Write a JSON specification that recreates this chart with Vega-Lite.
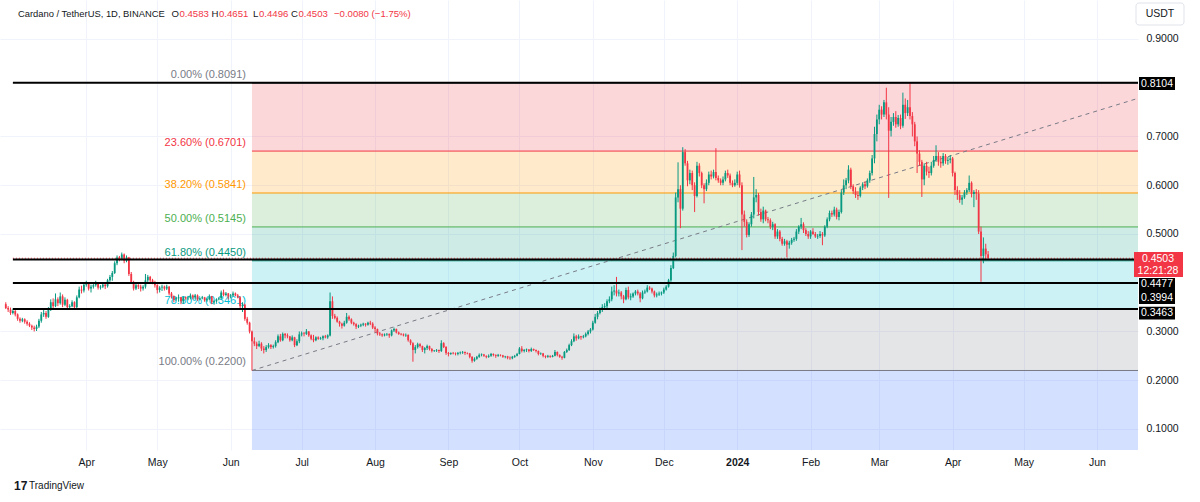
{
"$schema": "https://vega.github.io/schema/vega-lite/v6.json",
"width": 1138, "height": 450,
"autosize": {"type": "none"},
"padding": {"left": 0, "top": 0, "right": 62, "bottom": 52},
"background": "white",
"config": {"view": {"stroke": null}, "font": "Liberation Sans"},
"resolve": {"axis": {"x": "independent", "y": "independent"}},
"datasets": {
"fibz": [
{"lv":"0.236","from":"2023-06-10","top":0.8091,"bot":0.6701},
{"lv":"0.382","from":"2023-06-10","top":0.6701,"bot":0.5841},
{"lv":"0.5","from":"2023-06-10","top":0.5841,"bot":0.5145},
{"lv":"0.618","from":"2023-06-10","top":0.5145,"bot":0.4450},
{"lv":"0.786","from":"2023-06-10","top":0.4450,"bot":0.3461},
{"lv":"1","from":"2023-06-10","top":0.3461,"bot":0.2200},
{"lv":"1.618","from":"2023-06-10","top":0.2200,"bot":-0.1441}
],
"fibl": [
{"lv":"0","from":"2023-06-10","p":0.8091,"t":"0.00% (0.8091)"},
{"lv":"0.236","from":"2023-06-10","p":0.6701,"t":"23.60% (0.6701)"},
{"lv":"0.382","from":"2023-06-10","p":0.5841,"t":"38.20% (0.5841)"},
{"lv":"0.5","from":"2023-06-10","p":0.5145,"t":"50.00% (0.5145)"},
{"lv":"0.618","from":"2023-06-10","p":0.4450,"t":"61.80% (0.4450)"},
{"lv":"0.786","from":"2023-06-10","p":0.3461,"t":"78.60% (0.3461)"},
{"lv":"1","from":"2023-06-10","p":0.2200,"t":"100.00% (0.2200)"}
],
"trend": [{"d":"2023-06-10","p":0.2200},{"d":"2024-07-09","p":0.8091}],
"hl": [{"from":"2023-03-01","p":0.8104},{"from":"2023-03-01","p":0.4477},{"from":"2023-03-01","p":0.3994},{"from":"2023-03-01","p":0.3463}],
"pl": [{"k":"a","p":0.8104,"t":"0.8104"},{"k":"cur","from":"2023-03-01","p":0.4503,"t":"0.4503","t2":"12:21:28"},{"k":"b","p":0.4477,"t":"0.4477"},{"k":"c","p":0.3994,"t":"0.3994"},{"k":"d","p":0.3463,"t":"0.3463"}],
"one": [{}],
"candles": [
{"d":"2023-02-26","o":0.356,"h":0.360,"l":0.346,"c":0.348},
{"d":"2023-02-27","o":0.348,"h":0.352,"l":0.340,"c":0.345},
{"d":"2023-02-28","o":0.345,"h":0.349,"l":0.334,"c":0.338},
{"d":"2023-03-01","o":0.338,"h":0.347,"l":0.335,"c":0.342},
{"d":"2023-03-02","o":0.342,"h":0.344,"l":0.331,"c":0.335},
{"d":"2023-03-03","o":0.335,"h":0.337,"l":0.322,"c":0.326},
{"d":"2023-03-04","o":0.326,"h":0.329,"l":0.318,"c":0.322},
{"d":"2023-03-05","o":0.322,"h":0.328,"l":0.319,"c":0.325},
{"d":"2023-03-06","o":0.325,"h":0.327,"l":0.316,"c":0.320},
{"d":"2023-03-07","o":0.320,"h":0.323,"l":0.312,"c":0.316},
{"d":"2023-03-08","o":0.316,"h":0.319,"l":0.309,"c":0.312},
{"d":"2023-03-09","o":0.312,"h":0.314,"l":0.303,"c":0.308},
{"d":"2023-03-10","o":0.308,"h":0.312,"l":0.300,"c":0.305},
{"d":"2023-03-11","o":0.305,"h":0.314,"l":0.301,"c":0.310},
{"d":"2023-03-12","o":0.310,"h":0.326,"l":0.307,"c":0.322},
{"d":"2023-03-13","o":0.322,"h":0.340,"l":0.318,"c":0.335},
{"d":"2023-03-14","o":0.335,"h":0.348,"l":0.330,"c":0.338},
{"d":"2023-03-15","o":0.338,"h":0.342,"l":0.326,"c":0.330},
{"d":"2023-03-16","o":0.330,"h":0.350,"l":0.328,"c":0.345},
{"d":"2023-03-17","o":0.345,"h":0.366,"l":0.342,"c":0.360},
{"d":"2023-03-18","o":0.360,"h":0.368,"l":0.348,"c":0.352},
{"d":"2023-03-19","o":0.352,"h":0.378,"l":0.350,"c":0.366},
{"d":"2023-03-20","o":0.366,"h":0.370,"l":0.352,"c":0.358},
{"d":"2023-03-21","o":0.358,"h":0.380,"l":0.355,"c":0.372},
{"d":"2023-03-22","o":0.372,"h":0.376,"l":0.350,"c":0.355},
{"d":"2023-03-23","o":0.355,"h":0.370,"l":0.352,"c":0.365},
{"d":"2023-03-24","o":0.365,"h":0.367,"l":0.346,"c":0.350},
{"d":"2023-03-25","o":0.350,"h":0.356,"l":0.346,"c":0.352},
{"d":"2023-03-26","o":0.352,"h":0.364,"l":0.350,"c":0.360},
{"d":"2023-03-27","o":0.360,"h":0.362,"l":0.345,"c":0.350},
{"d":"2023-03-28","o":0.350,"h":0.374,"l":0.348,"c":0.370},
{"d":"2023-03-29","o":0.370,"h":0.392,"l":0.368,"c":0.386},
{"d":"2023-03-30","o":0.386,"h":0.394,"l":0.378,"c":0.384},
{"d":"2023-03-31","o":0.384,"h":0.400,"l":0.380,"c":0.396},
{"d":"2023-04-01","o":0.396,"h":0.404,"l":0.392,"c":0.398},
{"d":"2023-04-02","o":0.398,"h":0.400,"l":0.384,"c":0.388},
{"d":"2023-04-03","o":0.388,"h":0.396,"l":0.380,"c":0.392},
{"d":"2023-04-04","o":0.392,"h":0.400,"l":0.388,"c":0.395},
{"d":"2023-04-05","o":0.395,"h":0.404,"l":0.392,"c":0.398},
{"d":"2023-04-06","o":0.398,"h":0.399,"l":0.386,"c":0.390},
{"d":"2023-04-07","o":0.390,"h":0.395,"l":0.386,"c":0.392},
{"d":"2023-04-08","o":0.392,"h":0.399,"l":0.389,"c":0.396},
{"d":"2023-04-09","o":0.396,"h":0.398,"l":0.387,"c":0.393},
{"d":"2023-04-10","o":0.393,"h":0.408,"l":0.390,"c":0.405},
{"d":"2023-04-11","o":0.405,"h":0.416,"l":0.402,"c":0.412},
{"d":"2023-04-12","o":0.412,"h":0.424,"l":0.404,"c":0.420},
{"d":"2023-04-13","o":0.420,"h":0.444,"l":0.418,"c":0.440},
{"d":"2023-04-14","o":0.440,"h":0.456,"l":0.436,"c":0.452},
{"d":"2023-04-15","o":0.452,"h":0.455,"l":0.444,"c":0.448},
{"d":"2023-04-16","o":0.448,"h":0.462,"l":0.446,"c":0.458},
{"d":"2023-04-17","o":0.458,"h":0.460,"l":0.440,"c":0.445},
{"d":"2023-04-18","o":0.445,"h":0.456,"l":0.442,"c":0.452},
{"d":"2023-04-19","o":0.452,"h":0.453,"l":0.414,"c":0.418},
{"d":"2023-04-20","o":0.418,"h":0.422,"l":0.398,"c":0.400},
{"d":"2023-04-21","o":0.400,"h":0.404,"l":0.384,"c":0.388},
{"d":"2023-04-22","o":0.388,"h":0.398,"l":0.385,"c":0.395},
{"d":"2023-04-23","o":0.395,"h":0.397,"l":0.387,"c":0.392},
{"d":"2023-04-24","o":0.392,"h":0.396,"l":0.382,"c":0.388},
{"d":"2023-04-25","o":0.388,"h":0.395,"l":0.384,"c":0.392},
{"d":"2023-04-26","o":0.392,"h":0.418,"l":0.388,"c":0.405},
{"d":"2023-04-27","o":0.405,"h":0.416,"l":0.400,"c":0.412},
{"d":"2023-04-28","o":0.412,"h":0.414,"l":0.401,"c":0.405},
{"d":"2023-04-29","o":0.405,"h":0.408,"l":0.397,"c":0.400},
{"d":"2023-04-30","o":0.400,"h":0.404,"l":0.390,"c":0.395},
{"d":"2023-05-01","o":0.395,"h":0.397,"l":0.378,"c":0.385},
{"d":"2023-05-02","o":0.385,"h":0.393,"l":0.380,"c":0.390},
{"d":"2023-05-03","o":0.390,"h":0.396,"l":0.383,"c":0.392},
{"d":"2023-05-04","o":0.392,"h":0.394,"l":0.384,"c":0.388},
{"d":"2023-05-05","o":0.388,"h":0.396,"l":0.385,"c":0.392},
{"d":"2023-05-06","o":0.392,"h":0.393,"l":0.374,"c":0.378},
{"d":"2023-05-07","o":0.378,"h":0.381,"l":0.368,"c":0.372},
{"d":"2023-05-08","o":0.372,"h":0.374,"l":0.360,"c":0.366},
{"d":"2023-05-09","o":0.366,"h":0.371,"l":0.363,"c":0.368},
{"d":"2023-05-10","o":0.368,"h":0.376,"l":0.361,"c":0.370},
{"d":"2023-05-11","o":0.370,"h":0.371,"l":0.356,"c":0.362},
{"d":"2023-05-12","o":0.362,"h":0.372,"l":0.357,"c":0.370},
{"d":"2023-05-13","o":0.370,"h":0.372,"l":0.365,"c":0.368},
{"d":"2023-05-14","o":0.368,"h":0.373,"l":0.364,"c":0.369},
{"d":"2023-05-15","o":0.369,"h":0.378,"l":0.366,"c":0.374},
{"d":"2023-05-16","o":0.374,"h":0.376,"l":0.366,"c":0.370},
{"d":"2023-05-17","o":0.370,"h":0.377,"l":0.366,"c":0.374},
{"d":"2023-05-18","o":0.374,"h":0.376,"l":0.363,"c":0.366},
{"d":"2023-05-19","o":0.366,"h":0.370,"l":0.364,"c":0.368},
{"d":"2023-05-20","o":0.368,"h":0.373,"l":0.366,"c":0.370},
{"d":"2023-05-21","o":0.370,"h":0.371,"l":0.361,"c":0.364},
{"d":"2023-05-22","o":0.364,"h":0.369,"l":0.361,"c":0.366},
{"d":"2023-05-23","o":0.366,"h":0.376,"l":0.365,"c":0.372},
{"d":"2023-05-24","o":0.372,"h":0.373,"l":0.356,"c":0.360},
{"d":"2023-05-25","o":0.360,"h":0.364,"l":0.355,"c":0.362},
{"d":"2023-05-26","o":0.362,"h":0.368,"l":0.359,"c":0.366},
{"d":"2023-05-27","o":0.366,"h":0.370,"l":0.364,"c":0.368},
{"d":"2023-05-28","o":0.368,"h":0.384,"l":0.367,"c":0.380},
{"d":"2023-05-29","o":0.380,"h":0.386,"l":0.372,"c":0.375},
{"d":"2023-05-30","o":0.375,"h":0.381,"l":0.372,"c":0.378},
{"d":"2023-05-31","o":0.378,"h":0.379,"l":0.366,"c":0.372},
{"d":"2023-06-01","o":0.372,"h":0.377,"l":0.368,"c":0.374},
{"d":"2023-06-02","o":0.374,"h":0.382,"l":0.372,"c":0.378},
{"d":"2023-06-03","o":0.378,"h":0.380,"l":0.372,"c":0.374},
{"d":"2023-06-04","o":0.374,"h":0.377,"l":0.368,"c":0.370},
{"d":"2023-06-05","o":0.370,"h":0.372,"l":0.346,"c":0.352},
{"d":"2023-06-06","o":0.352,"h":0.360,"l":0.340,"c":0.355},
{"d":"2023-06-07","o":0.355,"h":0.357,"l":0.322,"c":0.326},
{"d":"2023-06-08","o":0.326,"h":0.330,"l":0.314,"c":0.318},
{"d":"2023-06-09","o":0.318,"h":0.320,"l":0.296,"c":0.300},
{"d":"2023-06-10","o":0.300,"h":0.302,"l":0.220,"c":0.280},
{"d":"2023-06-11","o":0.280,"h":0.288,"l":0.270,"c":0.275},
{"d":"2023-06-12","o":0.275,"h":0.279,"l":0.264,"c":0.270},
{"d":"2023-06-13","o":0.270,"h":0.281,"l":0.268,"c":0.275},
{"d":"2023-06-14","o":0.275,"h":0.278,"l":0.260,"c":0.265},
{"d":"2023-06-15","o":0.265,"h":0.270,"l":0.255,"c":0.262},
{"d":"2023-06-16","o":0.262,"h":0.272,"l":0.258,"c":0.268},
{"d":"2023-06-17","o":0.268,"h":0.276,"l":0.265,"c":0.272},
{"d":"2023-06-18","o":0.272,"h":0.274,"l":0.264,"c":0.268},
{"d":"2023-06-19","o":0.268,"h":0.273,"l":0.265,"c":0.270},
{"d":"2023-06-20","o":0.270,"h":0.282,"l":0.267,"c":0.278},
{"d":"2023-06-21","o":0.278,"h":0.294,"l":0.276,"c":0.290},
{"d":"2023-06-22","o":0.290,"h":0.295,"l":0.279,"c":0.282},
{"d":"2023-06-23","o":0.282,"h":0.298,"l":0.280,"c":0.295},
{"d":"2023-06-24","o":0.295,"h":0.297,"l":0.286,"c":0.292},
{"d":"2023-06-25","o":0.292,"h":0.296,"l":0.286,"c":0.290},
{"d":"2023-06-26","o":0.290,"h":0.291,"l":0.279,"c":0.282},
{"d":"2023-06-27","o":0.282,"h":0.292,"l":0.280,"c":0.288},
{"d":"2023-06-28","o":0.288,"h":0.289,"l":0.268,"c":0.272},
{"d":"2023-06-29","o":0.272,"h":0.284,"l":0.270,"c":0.280},
{"d":"2023-06-30","o":0.280,"h":0.300,"l":0.276,"c":0.294},
{"d":"2023-07-01","o":0.294,"h":0.300,"l":0.290,"c":0.296},
{"d":"2023-07-02","o":0.296,"h":0.299,"l":0.290,"c":0.295},
{"d":"2023-07-03","o":0.295,"h":0.305,"l":0.293,"c":0.300},
{"d":"2023-07-04","o":0.300,"h":0.301,"l":0.289,"c":0.292},
{"d":"2023-07-05","o":0.292,"h":0.294,"l":0.282,"c":0.285},
{"d":"2023-07-06","o":0.285,"h":0.293,"l":0.278,"c":0.282},
{"d":"2023-07-07","o":0.282,"h":0.290,"l":0.280,"c":0.288},
{"d":"2023-07-08","o":0.288,"h":0.290,"l":0.283,"c":0.285},
{"d":"2023-07-09","o":0.285,"h":0.289,"l":0.283,"c":0.286},
{"d":"2023-07-10","o":0.286,"h":0.292,"l":0.282,"c":0.290},
{"d":"2023-07-11","o":0.290,"h":0.293,"l":0.286,"c":0.288},
{"d":"2023-07-12","o":0.288,"h":0.294,"l":0.285,"c":0.292},
{"d":"2023-07-13","o":0.292,"h":0.380,"l":0.290,"c":0.362},
{"d":"2023-07-14","o":0.362,"h":0.372,"l":0.326,"c":0.332},
{"d":"2023-07-15","o":0.332,"h":0.336,"l":0.325,"c":0.328},
{"d":"2023-07-16","o":0.328,"h":0.331,"l":0.318,"c":0.320},
{"d":"2023-07-17","o":0.320,"h":0.322,"l":0.310,"c":0.316},
{"d":"2023-07-18","o":0.316,"h":0.318,"l":0.306,"c":0.312},
{"d":"2023-07-19","o":0.312,"h":0.322,"l":0.310,"c":0.318},
{"d":"2023-07-20","o":0.318,"h":0.338,"l":0.316,"c":0.330},
{"d":"2023-07-21","o":0.330,"h":0.333,"l":0.322,"c":0.325},
{"d":"2023-07-22","o":0.325,"h":0.327,"l":0.315,"c":0.318},
{"d":"2023-07-23","o":0.318,"h":0.320,"l":0.312,"c":0.315},
{"d":"2023-07-24","o":0.315,"h":0.317,"l":0.305,"c":0.310},
{"d":"2023-07-25","o":0.310,"h":0.314,"l":0.307,"c":0.312},
{"d":"2023-07-26","o":0.312,"h":0.316,"l":0.309,"c":0.314},
{"d":"2023-07-27","o":0.314,"h":0.318,"l":0.311,"c":0.316},
{"d":"2023-07-28","o":0.316,"h":0.317,"l":0.310,"c":0.314},
{"d":"2023-07-29","o":0.314,"h":0.320,"l":0.312,"c":0.318},
{"d":"2023-07-30","o":0.318,"h":0.322,"l":0.313,"c":0.316},
{"d":"2023-07-31","o":0.316,"h":0.319,"l":0.305,"c":0.308},
{"d":"2023-08-01","o":0.308,"h":0.311,"l":0.298,"c":0.305},
{"d":"2023-08-02","o":0.305,"h":0.306,"l":0.292,"c":0.296},
{"d":"2023-08-03","o":0.296,"h":0.299,"l":0.291,"c":0.294},
{"d":"2023-08-04","o":0.294,"h":0.296,"l":0.289,"c":0.292},
{"d":"2023-08-05","o":0.292,"h":0.296,"l":0.290,"c":0.294},
{"d":"2023-08-06","o":0.294,"h":0.297,"l":0.291,"c":0.295},
{"d":"2023-08-07","o":0.295,"h":0.296,"l":0.287,"c":0.292},
{"d":"2023-08-08","o":0.292,"h":0.304,"l":0.290,"c":0.302},
{"d":"2023-08-09","o":0.302,"h":0.308,"l":0.299,"c":0.305},
{"d":"2023-08-10","o":0.305,"h":0.306,"l":0.296,"c":0.298},
{"d":"2023-08-11","o":0.298,"h":0.300,"l":0.293,"c":0.295},
{"d":"2023-08-12","o":0.295,"h":0.297,"l":0.292,"c":0.294},
{"d":"2023-08-13","o":0.294,"h":0.296,"l":0.290,"c":0.292},
{"d":"2023-08-14","o":0.292,"h":0.296,"l":0.289,"c":0.293},
{"d":"2023-08-15","o":0.293,"h":0.294,"l":0.279,"c":0.282},
{"d":"2023-08-16","o":0.282,"h":0.284,"l":0.272,"c":0.276},
{"d":"2023-08-17","o":0.276,"h":0.278,"l":0.238,"c":0.262},
{"d":"2023-08-18","o":0.262,"h":0.272,"l":0.255,"c":0.268},
{"d":"2023-08-19","o":0.268,"h":0.277,"l":0.265,"c":0.274},
{"d":"2023-08-20","o":0.274,"h":0.276,"l":0.267,"c":0.270},
{"d":"2023-08-21","o":0.270,"h":0.271,"l":0.258,"c":0.262},
{"d":"2023-08-22","o":0.262,"h":0.268,"l":0.255,"c":0.266},
{"d":"2023-08-23","o":0.266,"h":0.273,"l":0.262,"c":0.270},
{"d":"2023-08-24","o":0.270,"h":0.271,"l":0.261,"c":0.264},
{"d":"2023-08-25","o":0.264,"h":0.266,"l":0.257,"c":0.260},
{"d":"2023-08-26","o":0.260,"h":0.262,"l":0.258,"c":0.261},
{"d":"2023-08-27","o":0.261,"h":0.264,"l":0.258,"c":0.262},
{"d":"2023-08-28","o":0.262,"h":0.263,"l":0.256,"c":0.260},
{"d":"2023-08-29","o":0.260,"h":0.282,"l":0.258,"c":0.276},
{"d":"2023-08-30","o":0.276,"h":0.278,"l":0.266,"c":0.268},
{"d":"2023-08-31","o":0.268,"h":0.270,"l":0.252,"c":0.256},
{"d":"2023-09-01","o":0.256,"h":0.258,"l":0.249,"c":0.254},
{"d":"2023-09-02","o":0.254,"h":0.257,"l":0.252,"c":0.256},
{"d":"2023-09-03","o":0.256,"h":0.258,"l":0.253,"c":0.255},
{"d":"2023-09-04","o":0.255,"h":0.257,"l":0.251,"c":0.254},
{"d":"2023-09-05","o":0.254,"h":0.258,"l":0.251,"c":0.256},
{"d":"2023-09-06","o":0.256,"h":0.259,"l":0.253,"c":0.257},
{"d":"2023-09-07","o":0.257,"h":0.260,"l":0.254,"c":0.258},
{"d":"2023-09-08","o":0.258,"h":0.259,"l":0.252,"c":0.256},
{"d":"2023-09-09","o":0.256,"h":0.257,"l":0.253,"c":0.255},
{"d":"2023-09-10","o":0.255,"h":0.256,"l":0.245,"c":0.248},
{"d":"2023-09-11","o":0.248,"h":0.249,"l":0.236,"c":0.240},
{"d":"2023-09-12","o":0.240,"h":0.247,"l":0.238,"c":0.244},
{"d":"2023-09-13","o":0.244,"h":0.250,"l":0.242,"c":0.248},
{"d":"2023-09-14","o":0.248,"h":0.255,"l":0.246,"c":0.252},
{"d":"2023-09-15","o":0.252,"h":0.255,"l":0.249,"c":0.253},
{"d":"2023-09-16","o":0.253,"h":0.254,"l":0.248,"c":0.250},
{"d":"2023-09-17","o":0.250,"h":0.251,"l":0.245,"c":0.248},
{"d":"2023-09-18","o":0.248,"h":0.253,"l":0.246,"c":0.250},
{"d":"2023-09-19","o":0.250,"h":0.256,"l":0.248,"c":0.254},
{"d":"2023-09-20","o":0.254,"h":0.255,"l":0.249,"c":0.252},
{"d":"2023-09-21","o":0.252,"h":0.253,"l":0.246,"c":0.250},
{"d":"2023-09-22","o":0.250,"h":0.254,"l":0.248,"c":0.252},
{"d":"2023-09-23","o":0.252,"h":0.253,"l":0.249,"c":0.251},
{"d":"2023-09-24","o":0.251,"h":0.252,"l":0.246,"c":0.248},
{"d":"2023-09-25","o":0.248,"h":0.250,"l":0.245,"c":0.249},
{"d":"2023-09-26","o":0.249,"h":0.250,"l":0.243,"c":0.246},
{"d":"2023-09-27","o":0.246,"h":0.249,"l":0.242,"c":0.245},
{"d":"2023-09-28","o":0.245,"h":0.250,"l":0.243,"c":0.248},
{"d":"2023-09-29","o":0.248,"h":0.252,"l":0.246,"c":0.250},
{"d":"2023-09-30","o":0.250,"h":0.256,"l":0.249,"c":0.254},
{"d":"2023-10-01","o":0.254,"h":0.268,"l":0.253,"c":0.265},
{"d":"2023-10-02","o":0.265,"h":0.270,"l":0.257,"c":0.260},
{"d":"2023-10-03","o":0.260,"h":0.264,"l":0.257,"c":0.262},
{"d":"2023-10-04","o":0.262,"h":0.265,"l":0.258,"c":0.263},
{"d":"2023-10-05","o":0.263,"h":0.264,"l":0.257,"c":0.260},
{"d":"2023-10-06","o":0.260,"h":0.267,"l":0.258,"c":0.264},
{"d":"2023-10-07","o":0.264,"h":0.265,"l":0.260,"c":0.262},
{"d":"2023-10-08","o":0.262,"h":0.263,"l":0.257,"c":0.260},
{"d":"2023-10-09","o":0.260,"h":0.261,"l":0.251,"c":0.254},
{"d":"2023-10-10","o":0.254,"h":0.257,"l":0.252,"c":0.255},
{"d":"2023-10-11","o":0.255,"h":0.256,"l":0.247,"c":0.250},
{"d":"2023-10-12","o":0.250,"h":0.251,"l":0.245,"c":0.248},
{"d":"2023-10-13","o":0.248,"h":0.252,"l":0.246,"c":0.250},
{"d":"2023-10-14","o":0.250,"h":0.251,"l":0.246,"c":0.248},
{"d":"2023-10-15","o":0.248,"h":0.252,"l":0.247,"c":0.250},
{"d":"2023-10-16","o":0.250,"h":0.262,"l":0.249,"c":0.258},
{"d":"2023-10-17","o":0.258,"h":0.259,"l":0.249,"c":0.252},
{"d":"2023-10-18","o":0.252,"h":0.253,"l":0.246,"c":0.248},
{"d":"2023-10-19","o":0.248,"h":0.250,"l":0.242,"c":0.246},
{"d":"2023-10-20","o":0.246,"h":0.260,"l":0.245,"c":0.258},
{"d":"2023-10-21","o":0.258,"h":0.265,"l":0.256,"c":0.262},
{"d":"2023-10-22","o":0.262,"h":0.275,"l":0.260,"c":0.272},
{"d":"2023-10-23","o":0.272,"h":0.284,"l":0.270,"c":0.280},
{"d":"2023-10-24","o":0.280,"h":0.296,"l":0.278,"c":0.290},
{"d":"2023-10-25","o":0.290,"h":0.293,"l":0.281,"c":0.286},
{"d":"2023-10-26","o":0.286,"h":0.294,"l":0.284,"c":0.290},
{"d":"2023-10-27","o":0.290,"h":0.291,"l":0.283,"c":0.288},
{"d":"2023-10-28","o":0.288,"h":0.293,"l":0.286,"c":0.290},
{"d":"2023-10-29","o":0.290,"h":0.298,"l":0.288,"c":0.295},
{"d":"2023-10-30","o":0.295,"h":0.303,"l":0.292,"c":0.300},
{"d":"2023-10-31","o":0.300,"h":0.307,"l":0.296,"c":0.304},
{"d":"2023-11-01","o":0.304,"h":0.322,"l":0.302,"c":0.318},
{"d":"2023-11-02","o":0.318,"h":0.336,"l":0.316,"c":0.330},
{"d":"2023-11-03","o":0.330,"h":0.342,"l":0.325,"c":0.338},
{"d":"2023-11-04","o":0.338,"h":0.349,"l":0.335,"c":0.345},
{"d":"2023-11-05","o":0.345,"h":0.356,"l":0.340,"c":0.350},
{"d":"2023-11-06","o":0.350,"h":0.358,"l":0.345,"c":0.352},
{"d":"2023-11-07","o":0.352,"h":0.366,"l":0.348,"c":0.362},
{"d":"2023-11-08","o":0.362,"h":0.372,"l":0.358,"c":0.366},
{"d":"2023-11-09","o":0.366,"h":0.392,"l":0.362,"c":0.382},
{"d":"2023-11-10","o":0.382,"h":0.395,"l":0.374,"c":0.384},
{"d":"2023-11-11","o":0.384,"h":0.412,"l":0.372,"c":0.378},
{"d":"2023-11-12","o":0.378,"h":0.386,"l":0.372,"c":0.380},
{"d":"2023-11-13","o":0.380,"h":0.383,"l":0.366,"c":0.372},
{"d":"2023-11-14","o":0.372,"h":0.375,"l":0.358,"c":0.366},
{"d":"2023-11-15","o":0.366,"h":0.390,"l":0.364,"c":0.385},
{"d":"2023-11-16","o":0.385,"h":0.392,"l":0.366,"c":0.370},
{"d":"2023-11-17","o":0.370,"h":0.378,"l":0.364,"c":0.372},
{"d":"2023-11-18","o":0.372,"h":0.380,"l":0.369,"c":0.378},
{"d":"2023-11-19","o":0.378,"h":0.385,"l":0.374,"c":0.382},
{"d":"2023-11-20","o":0.382,"h":0.386,"l":0.374,"c":0.378},
{"d":"2023-11-21","o":0.378,"h":0.381,"l":0.360,"c":0.368},
{"d":"2023-11-22","o":0.368,"h":0.384,"l":0.366,"c":0.380},
{"d":"2023-11-23","o":0.380,"h":0.386,"l":0.377,"c":0.382},
{"d":"2023-11-24","o":0.382,"h":0.395,"l":0.380,"c":0.390},
{"d":"2023-11-25","o":0.390,"h":0.393,"l":0.385,"c":0.388},
{"d":"2023-11-26","o":0.388,"h":0.390,"l":0.378,"c":0.382},
{"d":"2023-11-27","o":0.382,"h":0.384,"l":0.370,"c":0.374},
{"d":"2023-11-28","o":0.374,"h":0.380,"l":0.370,"c":0.376},
{"d":"2023-11-29","o":0.376,"h":0.382,"l":0.373,"c":0.378},
{"d":"2023-11-30","o":0.378,"h":0.382,"l":0.374,"c":0.380},
{"d":"2023-12-01","o":0.380,"h":0.390,"l":0.377,"c":0.386},
{"d":"2023-12-02","o":0.386,"h":0.395,"l":0.384,"c":0.392},
{"d":"2023-12-03","o":0.392,"h":0.408,"l":0.390,"c":0.405},
{"d":"2023-12-04","o":0.405,"h":0.436,"l":0.402,"c":0.430},
{"d":"2023-12-05","o":0.430,"h":0.462,"l":0.428,"c":0.455},
{"d":"2023-12-06","o":0.455,"h":0.585,"l":0.452,"c":0.575},
{"d":"2023-12-07","o":0.575,"h":0.647,"l":0.565,"c":0.592},
{"d":"2023-12-08","o":0.592,"h":0.600,"l":0.512,"c":0.552},
{"d":"2023-12-09","o":0.552,"h":0.678,"l":0.548,"c":0.668},
{"d":"2023-12-10","o":0.668,"h":0.674,"l":0.640,"c":0.645},
{"d":"2023-12-11","o":0.645,"h":0.650,"l":0.598,"c":0.610},
{"d":"2023-12-12","o":0.610,"h":0.632,"l":0.602,"c":0.625},
{"d":"2023-12-13","o":0.625,"h":0.630,"l":0.590,"c":0.600},
{"d":"2023-12-14","o":0.600,"h":0.606,"l":0.545,"c":0.578},
{"d":"2023-12-15","o":0.578,"h":0.648,"l":0.575,"c":0.640},
{"d":"2023-12-16","o":0.640,"h":0.645,"l":0.618,"c":0.625},
{"d":"2023-12-17","o":0.625,"h":0.628,"l":0.594,"c":0.600},
{"d":"2023-12-18","o":0.600,"h":0.604,"l":0.563,"c":0.592},
{"d":"2023-12-19","o":0.592,"h":0.612,"l":0.588,"c":0.605},
{"d":"2023-12-20","o":0.605,"h":0.628,"l":0.600,"c":0.622},
{"d":"2023-12-21","o":0.622,"h":0.630,"l":0.612,"c":0.618},
{"d":"2023-12-22","o":0.618,"h":0.632,"l":0.614,"c":0.627},
{"d":"2023-12-23","o":0.627,"h":0.676,"l":0.610,"c":0.615},
{"d":"2023-12-24","o":0.615,"h":0.620,"l":0.605,"c":0.610},
{"d":"2023-12-25","o":0.610,"h":0.614,"l":0.600,"c":0.605},
{"d":"2023-12-26","o":0.605,"h":0.618,"l":0.600,"c":0.612},
{"d":"2023-12-27","o":0.612,"h":0.630,"l":0.608,"c":0.625},
{"d":"2023-12-28","o":0.625,"h":0.632,"l":0.615,"c":0.620},
{"d":"2023-12-29","o":0.620,"h":0.624,"l":0.600,"c":0.605},
{"d":"2023-12-30","o":0.605,"h":0.610,"l":0.596,"c":0.600},
{"d":"2023-12-31","o":0.600,"h":0.612,"l":0.597,"c":0.605},
{"d":"2024-01-01","o":0.605,"h":0.628,"l":0.600,"c":0.622},
{"d":"2024-01-02","o":0.622,"h":0.630,"l":0.595,"c":0.600},
{"d":"2024-01-03","o":0.600,"h":0.606,"l":0.467,"c":0.540},
{"d":"2024-01-04","o":0.540,"h":0.548,"l":0.515,"c":0.525},
{"d":"2024-01-05","o":0.525,"h":0.530,"l":0.493,"c":0.498},
{"d":"2024-01-06","o":0.498,"h":0.524,"l":0.494,"c":0.520},
{"d":"2024-01-07","o":0.520,"h":0.545,"l":0.515,"c":0.540},
{"d":"2024-01-08","o":0.540,"h":0.617,"l":0.532,"c":0.575},
{"d":"2024-01-09","o":0.575,"h":0.592,"l":0.565,"c":0.580},
{"d":"2024-01-10","o":0.580,"h":0.584,"l":0.538,"c":0.545},
{"d":"2024-01-11","o":0.545,"h":0.552,"l":0.525,"c":0.530},
{"d":"2024-01-12","o":0.530,"h":0.556,"l":0.522,"c":0.548},
{"d":"2024-01-13","o":0.548,"h":0.550,"l":0.526,"c":0.530},
{"d":"2024-01-14","o":0.530,"h":0.535,"l":0.522,"c":0.528},
{"d":"2024-01-15","o":0.528,"h":0.532,"l":0.510,"c":0.515},
{"d":"2024-01-16","o":0.515,"h":0.525,"l":0.508,"c":0.520},
{"d":"2024-01-17","o":0.520,"h":0.522,"l":0.490,"c":0.495},
{"d":"2024-01-18","o":0.495,"h":0.510,"l":0.490,"c":0.505},
{"d":"2024-01-19","o":0.505,"h":0.508,"l":0.485,"c":0.490},
{"d":"2024-01-20","o":0.490,"h":0.494,"l":0.476,"c":0.480},
{"d":"2024-01-21","o":0.480,"h":0.490,"l":0.476,"c":0.485},
{"d":"2024-01-22","o":0.485,"h":0.488,"l":0.452,"c":0.478},
{"d":"2024-01-23","o":0.478,"h":0.486,"l":0.470,"c":0.482},
{"d":"2024-01-24","o":0.482,"h":0.492,"l":0.478,"c":0.488},
{"d":"2024-01-25","o":0.488,"h":0.494,"l":0.484,"c":0.490},
{"d":"2024-01-26","o":0.490,"h":0.510,"l":0.486,"c":0.505},
{"d":"2024-01-27","o":0.505,"h":0.518,"l":0.500,"c":0.515},
{"d":"2024-01-28","o":0.515,"h":0.533,"l":0.510,"c":0.520},
{"d":"2024-01-29","o":0.520,"h":0.524,"l":0.502,"c":0.508},
{"d":"2024-01-30","o":0.508,"h":0.512,"l":0.496,"c":0.500},
{"d":"2024-01-31","o":0.500,"h":0.506,"l":0.490,"c":0.495},
{"d":"2024-02-01","o":0.495,"h":0.508,"l":0.490,"c":0.505},
{"d":"2024-02-02","o":0.505,"h":0.512,"l":0.498,"c":0.500},
{"d":"2024-02-03","o":0.500,"h":0.504,"l":0.492,"c":0.495},
{"d":"2024-02-04","o":0.495,"h":0.500,"l":0.490,"c":0.496},
{"d":"2024-02-05","o":0.496,"h":0.506,"l":0.492,"c":0.500},
{"d":"2024-02-06","o":0.500,"h":0.504,"l":0.477,"c":0.497},
{"d":"2024-02-07","o":0.497,"h":0.518,"l":0.494,"c":0.515},
{"d":"2024-02-08","o":0.515,"h":0.534,"l":0.512,"c":0.530},
{"d":"2024-02-09","o":0.530,"h":0.548,"l":0.526,"c":0.543},
{"d":"2024-02-10","o":0.543,"h":0.548,"l":0.535,"c":0.540},
{"d":"2024-02-11","o":0.540,"h":0.556,"l":0.536,"c":0.550},
{"d":"2024-02-12","o":0.550,"h":0.554,"l":0.530,"c":0.535},
{"d":"2024-02-13","o":0.535,"h":0.550,"l":0.528,"c":0.545},
{"d":"2024-02-14","o":0.545,"h":0.590,"l":0.542,"c":0.585},
{"d":"2024-02-15","o":0.585,"h":0.612,"l":0.580,"c":0.600},
{"d":"2024-02-16","o":0.600,"h":0.615,"l":0.592,"c":0.610},
{"d":"2024-02-17","o":0.610,"h":0.641,"l":0.604,"c":0.632},
{"d":"2024-02-18","o":0.632,"h":0.636,"l":0.592,"c":0.598},
{"d":"2024-02-19","o":0.598,"h":0.602,"l":0.582,"c":0.588},
{"d":"2024-02-20","o":0.588,"h":0.596,"l":0.574,"c":0.580},
{"d":"2024-02-21","o":0.580,"h":0.588,"l":0.570,"c":0.578},
{"d":"2024-02-22","o":0.578,"h":0.598,"l":0.575,"c":0.595},
{"d":"2024-02-23","o":0.595,"h":0.606,"l":0.590,"c":0.602},
{"d":"2024-02-24","o":0.602,"h":0.608,"l":0.592,"c":0.598},
{"d":"2024-02-25","o":0.598,"h":0.614,"l":0.595,"c":0.610},
{"d":"2024-02-26","o":0.610,"h":0.630,"l":0.605,"c":0.625},
{"d":"2024-02-27","o":0.625,"h":0.662,"l":0.620,"c":0.655},
{"d":"2024-02-28","o":0.655,"h":0.720,"l":0.645,"c":0.705},
{"d":"2024-02-29","o":0.705,"h":0.745,"l":0.690,"c":0.735},
{"d":"2024-03-01","o":0.735,"h":0.765,"l":0.725,"c":0.755},
{"d":"2024-03-02","o":0.755,"h":0.762,"l":0.735,"c":0.745},
{"d":"2024-03-03","o":0.745,"h":0.775,"l":0.740,"c":0.770},
{"d":"2024-03-04","o":0.770,"h":0.800,"l":0.735,"c":0.745},
{"d":"2024-03-05","o":0.745,"h":0.760,"l":0.574,"c":0.712},
{"d":"2024-03-06","o":0.712,"h":0.740,"l":0.700,"c":0.730},
{"d":"2024-03-07","o":0.730,"h":0.748,"l":0.722,"c":0.740},
{"d":"2024-03-08","o":0.740,"h":0.752,"l":0.718,"c":0.725},
{"d":"2024-03-09","o":0.725,"h":0.744,"l":0.720,"c":0.738},
{"d":"2024-03-10","o":0.738,"h":0.745,"l":0.715,"c":0.722},
{"d":"2024-03-11","o":0.722,"h":0.790,"l":0.718,"c":0.765},
{"d":"2024-03-12","o":0.765,"h":0.778,"l":0.736,"c":0.748},
{"d":"2024-03-13","o":0.748,"h":0.775,"l":0.742,"c":0.760},
{"d":"2024-03-14","o":0.760,"h":0.810,"l":0.735,"c":0.742},
{"d":"2024-03-15","o":0.742,"h":0.750,"l":0.700,"c":0.725},
{"d":"2024-03-16","o":0.725,"h":0.730,"l":0.680,"c":0.690},
{"d":"2024-03-17","o":0.690,"h":0.700,"l":0.625,"c":0.665},
{"d":"2024-03-18","o":0.665,"h":0.672,"l":0.640,"c":0.648},
{"d":"2024-03-19","o":0.648,"h":0.652,"l":0.576,"c":0.612},
{"d":"2024-03-20","o":0.612,"h":0.645,"l":0.600,"c":0.640},
{"d":"2024-03-21","o":0.640,"h":0.648,"l":0.620,"c":0.628},
{"d":"2024-03-22","o":0.628,"h":0.638,"l":0.615,"c":0.625},
{"d":"2024-03-23","o":0.625,"h":0.648,"l":0.620,"c":0.640},
{"d":"2024-03-24","o":0.640,"h":0.660,"l":0.636,"c":0.652},
{"d":"2024-03-25","o":0.652,"h":0.682,"l":0.648,"c":0.660},
{"d":"2024-03-26","o":0.660,"h":0.668,"l":0.640,"c":0.648},
{"d":"2024-03-27","o":0.648,"h":0.660,"l":0.636,"c":0.645},
{"d":"2024-03-28","o":0.645,"h":0.666,"l":0.640,"c":0.660},
{"d":"2024-03-29","o":0.660,"h":0.664,"l":0.644,"c":0.650},
{"d":"2024-03-30","o":0.650,"h":0.658,"l":0.642,"c":0.652},
{"d":"2024-03-31","o":0.652,"h":0.662,"l":0.645,"c":0.655},
{"d":"2024-04-01","o":0.655,"h":0.658,"l":0.618,"c":0.625},
{"d":"2024-04-02","o":0.625,"h":0.628,"l":0.580,"c":0.590},
{"d":"2024-04-03","o":0.590,"h":0.598,"l":0.570,"c":0.580},
{"d":"2024-04-04","o":0.580,"h":0.590,"l":0.564,"c":0.570},
{"d":"2024-04-05","o":0.570,"h":0.580,"l":0.560,"c":0.575},
{"d":"2024-04-06","o":0.575,"h":0.590,"l":0.572,"c":0.585},
{"d":"2024-04-07","o":0.585,"h":0.594,"l":0.580,"c":0.590},
{"d":"2024-04-08","o":0.590,"h":0.620,"l":0.586,"c":0.605},
{"d":"2024-04-09","o":0.605,"h":0.608,"l":0.575,"c":0.582},
{"d":"2024-04-10","o":0.582,"h":0.590,"l":0.555,"c":0.586},
{"d":"2024-04-11","o":0.586,"h":0.592,"l":0.570,"c":0.583},
{"d":"2024-04-12","o":0.583,"h":0.590,"l":0.500,"c":0.505},
{"d":"2024-04-13","o":0.505,"h":0.515,"l":0.402,"c":0.455},
{"d":"2024-04-14","o":0.455,"h":0.493,"l":0.440,"c":0.470},
{"d":"2024-04-15","o":0.470,"h":0.480,"l":0.447,"c":0.4583},
{"d":"2024-04-16","o":0.4583,"h":0.4651,"l":0.4496,"c":0.4503}
]
},
"layer": [
{"data":{"name":"fibz"},"mark":{"type":"rect","opacity":0.2,"clip":true},
 "encoding":{
  "x":{"field":"from","type":"temporal","scale":{"type":"utc","domain":[{"year":2023,"month":2,"date":25,"hours":16,"utc":true},{"year":2024,"month":6,"date":16,"hours":5,"utc":true}]},"axis":null},
  "x2":{"datum":{"year":2025,"month":1,"date":1,"utc":true}},
  "y":{"field":"top","type":"quantitative","scale":{"domain":[0.0569,0.98],"zero":false,"nice":false},"axis":null},
  "y2":{"field":"bot"},
  "color":{"field":"lv","type":"nominal","legend":null,"scale":{"domain":["0","0.236","0.382","0.5","0.618","0.786","1","1.618"],"range":["#787b86","#f23645","#ff9800","#4caf50","#089981","#00bcd4","#787b86","#2962ff"]}}}},
{"data":{"name":"fibl"},"mark":{"type":"rule","strokeWidth":1,"clip":true},
 "encoding":{
  "x":{"field":"from","type":"temporal","scale":{"type":"utc","domain":[{"year":2023,"month":2,"date":25,"hours":16,"utc":true},{"year":2024,"month":6,"date":16,"hours":5,"utc":true}]},"axis":null},
  "x2":{"datum":{"year":2025,"month":1,"date":1,"utc":true}},
  "y":{"field":"p","type":"quantitative","scale":{"domain":[0.0569,0.98],"zero":false,"nice":false},"axis":null},
  "color":{"field":"lv","type":"nominal","legend":null}}},
{"data":{"name":"fibl"},"mark":{"type":"text","align":"right","baseline":"alphabetic","dx":-6,"dy":-5,"fontSize":11},
 "encoding":{
  "x":{"field":"from","type":"temporal","scale":{"type":"utc","domain":[{"year":2023,"month":2,"date":25,"hours":16,"utc":true},{"year":2024,"month":6,"date":16,"hours":5,"utc":true}]},"axis":null},
  "y":{"field":"p","type":"quantitative","scale":{"domain":[0.0569,0.98],"zero":false,"nice":false},"axis":null},
  "text":{"field":"t"},
  "color":{"field":"lv","type":"nominal","legend":null}}},
{"data":{"name":"trend"},"mark":{"type":"line","strokeDash":[4,4],"color":"#787b86","strokeWidth":1,"clip":true},
 "encoding":{
  "x":{"field":"d","type":"temporal","scale":{"type":"utc","domain":[{"year":2023,"month":2,"date":25,"hours":16,"utc":true},{"year":2024,"month":6,"date":16,"hours":5,"utc":true}]},"axis":null},
  "y":{"field":"p","type":"quantitative","scale":{"domain":[0.0569,0.98],"zero":false,"nice":false},"axis":null}}},
{"data":{"name":"candles"},"mark":{"type":"rule","strokeWidth":1,"clip":true},
 "encoding":{
  "x":{"field":"d","type":"temporal","title":null,"scale":{"type":"utc","domain":[{"year":2023,"month":2,"date":25,"hours":16,"utc":true},{"year":2024,"month":6,"date":16,"hours":5,"utc":true}]},
   "axis":{"title":null,"orient":"bottom","values":[{"year":2023,"month":4,"date":1,"utc":true},{"year":2023,"month":5,"date":1,"utc":true},{"year":2023,"month":6,"date":1,"utc":true},{"year":2023,"month":7,"date":1,"utc":true},{"year":2023,"month":8,"date":1,"utc":true},{"year":2023,"month":9,"date":1,"utc":true},{"year":2023,"month":10,"date":1,"utc":true},{"year":2023,"month":11,"date":1,"utc":true},{"year":2023,"month":12,"date":1,"utc":true},{"year":2024,"month":1,"date":1,"utc":true},{"year":2024,"month":2,"date":1,"utc":true},{"year":2024,"month":3,"date":1,"utc":true},{"year":2024,"month":4,"date":1,"utc":true},{"year":2024,"month":5,"date":1,"utc":true},{"year":2024,"month":6,"date":1,"utc":true}],
    "labelExpr":"utcmonth(datum.value) == 0 ? utcFormat(datum.value, '%Y') : utcFormat(datum.value, '%b')",
    "labelFontWeight":{"condition":{"test":"utcmonth(datum.value) == 0","value":"bold"},"value":"normal"},
    "grid":true,"gridColor":"#f0f3fa","gridWidth":1,"domain":false,"ticks":false,"labelPadding":7,"labelFontSize":10.5,"labelColor":"#131722","labelFlush":false,"labelOverlap":false}},
  "y":{"field":"l","type":"quantitative","title":null,"scale":{"domain":[0.0569,0.98],"zero":false,"nice":false},
   "axis":{"orient":"right","title":null,"values":[0.1,0.2,0.3,0.5,0.6,0.7,0.9],"format":".4f","grid":true,"gridColor":"#f0f3fa","domain":false,"ticks":false,"labelPadding":8,"labelFontSize":10.5,"labelColor":"#131722","labelAlign":"left"}},
  "y2":{"field":"h"},
  "color":{"condition":{"test":"datum.c >= datum.o","value":"#089981"},"value":"#f23645"}}},
{"data":{"name":"candles"},"mark":{"type":"bar","size":1.8,"clip":true},
 "encoding":{
  "x":{"field":"d","type":"temporal","scale":{"type":"utc","domain":[{"year":2023,"month":2,"date":25,"hours":16,"utc":true},{"year":2024,"month":6,"date":16,"hours":5,"utc":true}]},"axis":null},
  "y":{"field":"o","type":"quantitative","scale":{"domain":[0.0569,0.98],"zero":false,"nice":false},"axis":null},
  "y2":{"field":"c"},
  "color":{"condition":{"test":"datum.c >= datum.o","value":"#089981"},"value":"#f23645"}}},
{"data":{"name":"pl"},"transform":[{"filter":"datum.k == 'cur'"}],"mark":{"type":"rule","strokeDash":[1,2],"strokeWidth":1,"color":"#f23645","clip":true},
 "encoding":{
  "x":{"field":"from","type":"temporal","scale":{"type":"utc","domain":[{"year":2023,"month":2,"date":25,"hours":16,"utc":true},{"year":2024,"month":6,"date":16,"hours":5,"utc":true}]},"axis":null},
  "x2":{"datum":{"year":2025,"month":1,"date":1,"utc":true}},
  "y":{"field":"p","type":"quantitative","scale":{"domain":[0.0569,0.98],"zero":false,"nice":false},"axis":null}}},
{"data":{"name":"hl"},"mark":{"type":"rule","strokeWidth":2,"color":"#000000","clip":true},
 "encoding":{
  "x":{"field":"from","type":"temporal","scale":{"type":"utc","domain":[{"year":2023,"month":2,"date":25,"hours":16,"utc":true},{"year":2024,"month":6,"date":16,"hours":5,"utc":true}]},"axis":null},
  "x2":{"datum":{"year":2025,"month":1,"date":1,"utc":true}},
  "y":{"field":"p","type":"quantitative","scale":{"domain":[0.0569,0.98],"zero":false,"nice":false},"axis":null}}},
{"data":{"name":"pl"},"transform":[{"filter":"datum.k == 'a'"}],"mark":{"type":"rect","color":"#000000","xOffset":6,"x2Offset":42,"yOffset":-5.7,"y2Offset":7.3},
 "encoding":{
  "x":{"datum":{"year":2024,"month":6,"date":16,"hours":5,"utc":true},"type":"temporal","scale":{"type":"utc","domain":[{"year":2023,"month":2,"date":25,"hours":16,"utc":true},{"year":2024,"month":6,"date":16,"hours":5,"utc":true}]},"axis":null},
  "x2":{"datum":{"year":2024,"month":6,"date":16,"hours":5,"utc":true}},
  "y":{"field":"p","type":"quantitative","scale":{"domain":[0.0569,0.98],"zero":false,"nice":false},"axis":null},
  "y2":{"field":"p"}}},
{"data":{"name":"pl"},"transform":[{"filter":"datum.k == 'cur'"}],"mark":{"type":"rect","color":"#f23645","xOffset":1,"x2Offset":50,"yOffset":-6.2,"y2Offset":18.8},
 "encoding":{
  "x":{"datum":{"year":2024,"month":6,"date":16,"hours":5,"utc":true},"type":"temporal","scale":{"type":"utc","domain":[{"year":2023,"month":2,"date":25,"hours":16,"utc":true},{"year":2024,"month":6,"date":16,"hours":5,"utc":true}]},"axis":null},
  "x2":{"datum":{"year":2024,"month":6,"date":16,"hours":5,"utc":true}},
  "y":{"field":"p","type":"quantitative","scale":{"domain":[0.0569,0.98],"zero":false,"nice":false},"axis":null},
  "y2":{"field":"p"}}},
{"data":{"name":"pl"},"transform":[{"filter":"datum.k == 'b'"}],"mark":{"type":"rect","color":"#000000","xOffset":6,"x2Offset":42,"yOffset":18.5,"y2Offset":31.5},
 "encoding":{
  "x":{"datum":{"year":2024,"month":6,"date":16,"hours":5,"utc":true},"type":"temporal","scale":{"type":"utc","domain":[{"year":2023,"month":2,"date":25,"hours":16,"utc":true},{"year":2024,"month":6,"date":16,"hours":5,"utc":true}]},"axis":null},
  "x2":{"datum":{"year":2024,"month":6,"date":16,"hours":5,"utc":true}},
  "y":{"field":"p","type":"quantitative","scale":{"domain":[0.0569,0.98],"zero":false,"nice":false},"axis":null},
  "y2":{"field":"p"}}},
{"data":{"name":"pl"},"transform":[{"filter":"datum.k == 'c'"}],"mark":{"type":"rect","color":"#000000","xOffset":6,"x2Offset":42,"yOffset":8,"y2Offset":21},
 "encoding":{
  "x":{"datum":{"year":2024,"month":6,"date":16,"hours":5,"utc":true},"type":"temporal","scale":{"type":"utc","domain":[{"year":2023,"month":2,"date":25,"hours":16,"utc":true},{"year":2024,"month":6,"date":16,"hours":5,"utc":true}]},"axis":null},
  "x2":{"datum":{"year":2024,"month":6,"date":16,"hours":5,"utc":true}},
  "y":{"field":"p","type":"quantitative","scale":{"domain":[0.0569,0.98],"zero":false,"nice":false},"axis":null},
  "y2":{"field":"p"}}},
{"data":{"name":"pl"},"transform":[{"filter":"datum.k == 'd'"}],"mark":{"type":"rect","color":"#000000","xOffset":6,"x2Offset":42,"yOffset":-2.2,"y2Offset":10.6},
 "encoding":{
  "x":{"datum":{"year":2024,"month":6,"date":16,"hours":5,"utc":true},"type":"temporal","scale":{"type":"utc","domain":[{"year":2023,"month":2,"date":25,"hours":16,"utc":true},{"year":2024,"month":6,"date":16,"hours":5,"utc":true}]},"axis":null},
  "x2":{"datum":{"year":2024,"month":6,"date":16,"hours":5,"utc":true}},
  "y":{"field":"p","type":"quantitative","scale":{"domain":[0.0569,0.98],"zero":false,"nice":false},"axis":null},
  "y2":{"field":"p"}}},
{"data":{"name":"pl"},"transform":[{"filter":"datum.k == 'a'"}],"mark":{"type":"text","color":"#ffffff","fontSize":10.5,"align":"center","baseline":"middle","dx":24,"dy":1},
 "encoding":{
  "x":{"datum":{"year":2024,"month":6,"date":16,"hours":5,"utc":true},"type":"temporal","scale":{"type":"utc","domain":[{"year":2023,"month":2,"date":25,"hours":16,"utc":true},{"year":2024,"month":6,"date":16,"hours":5,"utc":true}]},"axis":null},
  "y":{"field":"p","type":"quantitative","scale":{"domain":[0.0569,0.98],"zero":false,"nice":false},"axis":null},
  "text":{"field":"t"}}},
{"data":{"name":"pl"},"transform":[{"filter":"datum.k == 'cur'"}],"mark":{"type":"text","color":"#ffffff","fontSize":10.5,"align":"center","baseline":"middle","dx":25,"dy":0.5},
 "encoding":{
  "x":{"datum":{"year":2024,"month":6,"date":16,"hours":5,"utc":true},"type":"temporal","scale":{"type":"utc","domain":[{"year":2023,"month":2,"date":25,"hours":16,"utc":true},{"year":2024,"month":6,"date":16,"hours":5,"utc":true}]},"axis":null},
  "y":{"field":"p","type":"quantitative","scale":{"domain":[0.0569,0.98],"zero":false,"nice":false},"axis":null},
  "text":{"field":"t"}}},
{"data":{"name":"pl"},"transform":[{"filter":"datum.k == 'cur'"}],"mark":{"type":"text","color":"#ffffff","fontSize":10.5,"align":"center","baseline":"middle","dx":25,"dy":12.5},
 "encoding":{
  "x":{"datum":{"year":2024,"month":6,"date":16,"hours":5,"utc":true},"type":"temporal","scale":{"type":"utc","domain":[{"year":2023,"month":2,"date":25,"hours":16,"utc":true},{"year":2024,"month":6,"date":16,"hours":5,"utc":true}]},"axis":null},
  "y":{"field":"p","type":"quantitative","scale":{"domain":[0.0569,0.98],"zero":false,"nice":false},"axis":null},
  "text":{"field":"t2"}}},
{"data":{"name":"pl"},"transform":[{"filter":"datum.k == 'b'"}],"mark":{"type":"text","color":"#ffffff","fontSize":10.5,"align":"center","baseline":"middle","dx":24,"dy":25},
 "encoding":{
  "x":{"datum":{"year":2024,"month":6,"date":16,"hours":5,"utc":true},"type":"temporal","scale":{"type":"utc","domain":[{"year":2023,"month":2,"date":25,"hours":16,"utc":true},{"year":2024,"month":6,"date":16,"hours":5,"utc":true}]},"axis":null},
  "y":{"field":"p","type":"quantitative","scale":{"domain":[0.0569,0.98],"zero":false,"nice":false},"axis":null},
  "text":{"field":"t"}}},
{"data":{"name":"pl"},"transform":[{"filter":"datum.k == 'c'"}],"mark":{"type":"text","color":"#ffffff","fontSize":10.5,"align":"center","baseline":"middle","dx":24,"dy":14.5},
 "encoding":{
  "x":{"datum":{"year":2024,"month":6,"date":16,"hours":5,"utc":true},"type":"temporal","scale":{"type":"utc","domain":[{"year":2023,"month":2,"date":25,"hours":16,"utc":true},{"year":2024,"month":6,"date":16,"hours":5,"utc":true}]},"axis":null},
  "y":{"field":"p","type":"quantitative","scale":{"domain":[0.0569,0.98],"zero":false,"nice":false},"axis":null},
  "text":{"field":"t"}}},
{"data":{"name":"pl"},"transform":[{"filter":"datum.k == 'd'"}],"mark":{"type":"text","color":"#ffffff","fontSize":10.5,"align":"center","baseline":"middle","dx":24,"dy":4.2},
 "encoding":{
  "x":{"datum":{"year":2024,"month":6,"date":16,"hours":5,"utc":true},"type":"temporal","scale":{"type":"utc","domain":[{"year":2023,"month":2,"date":25,"hours":16,"utc":true},{"year":2024,"month":6,"date":16,"hours":5,"utc":true}]},"axis":null},
  "y":{"field":"p","type":"quantitative","scale":{"domain":[0.0569,0.98],"zero":false,"nice":false},"axis":null},
  "text":{"field":"t"}}},
{"data":{"name":"one"},"mark":{"type":"rect","fill":"#ffffff","stroke":"#e0e3eb","strokeWidth":1,"cornerRadius":3,"xOffset":3,"x2Offset":51,"yOffset":-11,"y2Offset":11},
 "encoding":{
  "x":{"datum":{"year":2024,"month":6,"date":16,"hours":5,"utc":true},"type":"temporal","scale":{"type":"utc","domain":[{"year":2023,"month":2,"date":25,"hours":16,"utc":true},{"year":2024,"month":6,"date":16,"hours":5,"utc":true}]},"axis":null},
  "x2":{"datum":{"year":2024,"month":6,"date":16,"hours":5,"utc":true}},
  "y":{"datum":0.9513,"type":"quantitative","scale":{"domain":[0.0569,0.98],"zero":false,"nice":false},"axis":null},
  "y2":{"datum":0.9513}}},
{"data":{"name":"one"},"mark":{"type":"text","text":"USDT","color":"#131722","fontSize":10.5,"align":"center","baseline":"middle","dx":27},
 "encoding":{
  "x":{"datum":{"year":2024,"month":6,"date":16,"hours":5,"utc":true},"type":"temporal","scale":{"type":"utc","domain":[{"year":2023,"month":2,"date":25,"hours":16,"utc":true},{"year":2024,"month":6,"date":16,"hours":5,"utc":true}]},"axis":null},
  "y":{"datum":0.9513,"type":"quantitative","scale":{"domain":[0.0569,0.98],"zero":false,"nice":false},"axis":null}}},
{"data":{"name":"one"},"mark":{"type":"text","text":"Cardano / TetherUS, 1D, BINANCE","color":"#131722","fontSize":9.4,"align":"left","baseline":"middle","dx":13},
 "encoding":{
  "x":{"datum":{"year":2023,"month":2,"date":25,"hours":16,"utc":true},"type":"temporal","scale":{"type":"utc","domain":[{"year":2023,"month":2,"date":25,"hours":16,"utc":true},{"year":2024,"month":6,"date":16,"hours":5,"utc":true}]},"axis":null},
  "y":{"datum":0.9513,"type":"quantitative","scale":{"domain":[0.0569,0.98],"zero":false,"nice":false},"axis":null}}},
{"data":{"name":"one"},"mark":{"type":"text","text":"O","color":"#131722","fontSize":9.6,"align":"left","baseline":"middle","dx":166.5},
 "encoding":{
  "x":{"datum":{"year":2023,"month":2,"date":25,"hours":16,"utc":true},"type":"temporal","scale":{"type":"utc","domain":[{"year":2023,"month":2,"date":25,"hours":16,"utc":true},{"year":2024,"month":6,"date":16,"hours":5,"utc":true}]},"axis":null},
  "y":{"datum":0.9513,"type":"quantitative","scale":{"domain":[0.0569,0.98],"zero":false,"nice":false},"axis":null}}},
{"data":{"name":"one"},"mark":{"type":"text","text":"0.4583","color":"#f23645","fontSize":9.6,"align":"left","baseline":"middle","dx":174.5},
 "encoding":{
  "x":{"datum":{"year":2023,"month":2,"date":25,"hours":16,"utc":true},"type":"temporal","scale":{"type":"utc","domain":[{"year":2023,"month":2,"date":25,"hours":16,"utc":true},{"year":2024,"month":6,"date":16,"hours":5,"utc":true}]},"axis":null},
  "y":{"datum":0.9513,"type":"quantitative","scale":{"domain":[0.0569,0.98],"zero":false,"nice":false},"axis":null}}},
{"data":{"name":"one"},"mark":{"type":"text","text":"H","color":"#131722","fontSize":9.6,"align":"left","baseline":"middle","dx":206.5},
 "encoding":{
  "x":{"datum":{"year":2023,"month":2,"date":25,"hours":16,"utc":true},"type":"temporal","scale":{"type":"utc","domain":[{"year":2023,"month":2,"date":25,"hours":16,"utc":true},{"year":2024,"month":6,"date":16,"hours":5,"utc":true}]},"axis":null},
  "y":{"datum":0.9513,"type":"quantitative","scale":{"domain":[0.0569,0.98],"zero":false,"nice":false},"axis":null}}},
{"data":{"name":"one"},"mark":{"type":"text","text":"0.4651","color":"#f23645","fontSize":9.6,"align":"left","baseline":"middle","dx":214},
 "encoding":{
  "x":{"datum":{"year":2023,"month":2,"date":25,"hours":16,"utc":true},"type":"temporal","scale":{"type":"utc","domain":[{"year":2023,"month":2,"date":25,"hours":16,"utc":true},{"year":2024,"month":6,"date":16,"hours":5,"utc":true}]},"axis":null},
  "y":{"datum":0.9513,"type":"quantitative","scale":{"domain":[0.0569,0.98],"zero":false,"nice":false},"axis":null}}},
{"data":{"name":"one"},"mark":{"type":"text","text":"L","color":"#131722","fontSize":9.6,"align":"left","baseline":"middle","dx":248},
 "encoding":{
  "x":{"datum":{"year":2023,"month":2,"date":25,"hours":16,"utc":true},"type":"temporal","scale":{"type":"utc","domain":[{"year":2023,"month":2,"date":25,"hours":16,"utc":true},{"year":2024,"month":6,"date":16,"hours":5,"utc":true}]},"axis":null},
  "y":{"datum":0.9513,"type":"quantitative","scale":{"domain":[0.0569,0.98],"zero":false,"nice":false},"axis":null}}},
{"data":{"name":"one"},"mark":{"type":"text","text":"0.4496","color":"#f23645","fontSize":9.6,"align":"left","baseline":"middle","dx":254},
 "encoding":{
  "x":{"datum":{"year":2023,"month":2,"date":25,"hours":16,"utc":true},"type":"temporal","scale":{"type":"utc","domain":[{"year":2023,"month":2,"date":25,"hours":16,"utc":true},{"year":2024,"month":6,"date":16,"hours":5,"utc":true}]},"axis":null},
  "y":{"datum":0.9513,"type":"quantitative","scale":{"domain":[0.0569,0.98],"zero":false,"nice":false},"axis":null}}},
{"data":{"name":"one"},"mark":{"type":"text","text":"C","color":"#131722","fontSize":9.6,"align":"left","baseline":"middle","dx":286},
 "encoding":{
  "x":{"datum":{"year":2023,"month":2,"date":25,"hours":16,"utc":true},"type":"temporal","scale":{"type":"utc","domain":[{"year":2023,"month":2,"date":25,"hours":16,"utc":true},{"year":2024,"month":6,"date":16,"hours":5,"utc":true}]},"axis":null},
  "y":{"datum":0.9513,"type":"quantitative","scale":{"domain":[0.0569,0.98],"zero":false,"nice":false},"axis":null}}},
{"data":{"name":"one"},"mark":{"type":"text","text":"0.4503","color":"#f23645","fontSize":9.6,"align":"left","baseline":"middle","dx":293.5},
 "encoding":{
  "x":{"datum":{"year":2023,"month":2,"date":25,"hours":16,"utc":true},"type":"temporal","scale":{"type":"utc","domain":[{"year":2023,"month":2,"date":25,"hours":16,"utc":true},{"year":2024,"month":6,"date":16,"hours":5,"utc":true}]},"axis":null},
  "y":{"datum":0.9513,"type":"quantitative","scale":{"domain":[0.0569,0.98],"zero":false,"nice":false},"axis":null}}},
{"data":{"name":"one"},"mark":{"type":"text","text":"−0.0080 (−1.75%)","color":"#f23645","fontSize":9.6,"align":"left","baseline":"middle","dx":329},
 "encoding":{
  "x":{"datum":{"year":2023,"month":2,"date":25,"hours":16,"utc":true},"type":"temporal","scale":{"type":"utc","domain":[{"year":2023,"month":2,"date":25,"hours":16,"utc":true},{"year":2024,"month":6,"date":16,"hours":5,"utc":true}]},"axis":null},
  "y":{"datum":0.9513,"type":"quantitative","scale":{"domain":[0.0569,0.98],"zero":false,"nice":false},"axis":null}}},
{"data":{"name":"one"},"mark":{"type":"text","text":"17","color":"#131722","fontSize":12,"fontWeight":900,"align":"left","baseline":"middle","dx":9},
 "encoding":{
  "x":{"datum":{"year":2023,"month":2,"date":25,"hours":16,"utc":true},"type":"temporal","scale":{"type":"utc","domain":[{"year":2023,"month":2,"date":25,"hours":16,"utc":true},{"year":2024,"month":6,"date":16,"hours":5,"utc":true}]},"axis":null},
  "y":{"datum":-0.0169,"type":"quantitative","scale":{"domain":[0.0569,0.98],"zero":false,"nice":false},"axis":null}}},
{"data":{"name":"one"},"mark":{"type":"text","text":"TradingView","color":"#131722","fontSize":10,"align":"left","baseline":"middle","dx":24},
 "encoding":{
  "x":{"datum":{"year":2023,"month":2,"date":25,"hours":16,"utc":true},"type":"temporal","scale":{"type":"utc","domain":[{"year":2023,"month":2,"date":25,"hours":16,"utc":true},{"year":2024,"month":6,"date":16,"hours":5,"utc":true}]},"axis":null},
  "y":{"datum":-0.0169,"type":"quantitative","scale":{"domain":[0.0569,0.98],"zero":false,"nice":false},"axis":null}}}
]
}
